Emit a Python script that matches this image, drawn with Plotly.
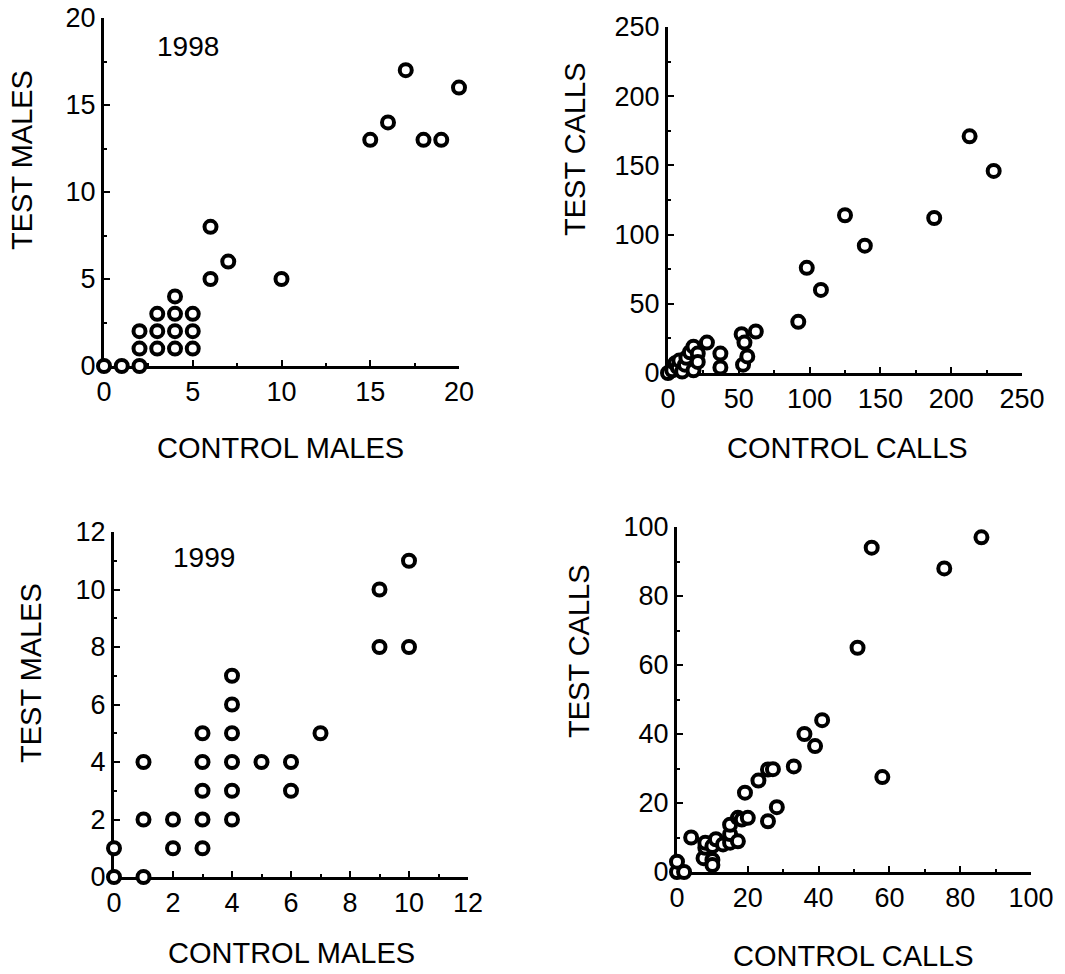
import plotly.graph_objects as go

# ---- data ----
ctrl_males_98 = [0, 1, 2, 2, 2, 3, 3, 3, 4, 4, 4, 4, 5, 5, 5, 6, 6, 7, 10, 15, 16, 17, 18, 19, 20]
test_males_98 = [0, 0, 0, 1, 2, 1, 2, 3, 1, 2, 3, 4, 1, 2, 3, 5, 8, 6, 5, 13, 14, 17, 13, 13, 16]

ctrl_calls_98 = [0, 3, 5, 7, 8, 10, 12, 13, 15.5, 18, 18, 21, 21, 27.5, 37, 37,
                 52, 53, 54, 56, 62, 92, 98, 108, 125, 139, 188, 213, 230]
test_calls_98 = [0, 2, 7, 4, 9, 1, 6, 11, 15, 19, 2, 14, 8, 22, 14, 4,
                 28, 6, 22, 12, 30, 37, 76, 60, 114, 92, 112, 171, 146]

ctrl_males_99 = [0, 0, 1, 1, 1, 2, 2, 3, 3, 3, 3, 3, 4, 4, 4, 4, 4, 4, 5, 6, 6, 7, 9, 9, 10, 10]
test_males_99 = [0, 1, 0, 2, 4, 1, 2, 1, 2, 3, 4, 5, 2, 3, 4, 5, 6, 7, 4, 3, 4, 5, 8, 10, 8, 11]

ctrl_calls_99 = [0, 0, 2, 4, 7.5, 8, 8, 10, 10, 10, 11, 13, 15, 15, 15, 17.2, 17.2, 18.3, 20,
                 19.2, 23, 25.7, 27.1, 33, 25.7, 28.2, 36, 39, 41, 51, 55, 58, 75.5, 86]
test_calls_99 = [0, 3, 0, 10, 4, 7, 8.5, 3.5, 2, 7.5, 9.5, 8, 8.5, 11, 13.7, 8.9, 15.7, 15.2, 15.7,
                 23, 26.5, 29.7, 29.8, 30.6, 14.7, 18.8, 40, 36.5, 44, 65, 94, 27.5, 88, 97]

W, H = 1065, 974

panels = [
    (ctrl_males_98, test_males_98, 20, 5, 20, 5, 104, 459, 18, 366, "CONTROL MALES", "TEST MALES"),
    (ctrl_calls_98, test_calls_98, 250, 50, 250, 50, 668, 1022, 27, 373, "CONTROL CALLS", "TEST CALLS"),
    (ctrl_males_99, test_males_99, 12, 2, 12, 2, 114, 468, 532, 877, "CONTROL MALES", "TEST MALES"),
    (ctrl_calls_99, test_calls_99, 100, 20, 100, 20, 677, 1031, 527, 872, "CONTROL CALLS", "TEST CALLS"),
]

xtitle_pos = [(280, 448), (847, 448), (291, 953), (853, 956)]
ytitle_pos = [(22, 160), (575, 149), (31, 673), (579, 651)]

FONT = "Liberation Sans, Arial, sans-serif"
fig = go.Figure()
annotations = []
layout = {}
for i, (xs, ys, xmax, xd, ymax, yd, x0, x1, yt, yb, xt, yti) in enumerate(panels):
    n = "" if i == 0 else str(i + 1)
    fig.add_trace(go.Scatter(
        x=xs, y=ys, mode="markers", xaxis="x" + n, yaxis="y" + n,
        cliponaxis=False, showlegend=False,
        marker=dict(size=12, color="white", line=dict(color="black", width=4)),
    ))
    common = dict(
        showline=True, linecolor="black", linewidth=3, showgrid=False, zeroline=False,
        ticks="inside", ticklen=6, tickwidth=2, tickcolor="black",
        tickfont=dict(family=FONT, size=27, color="black"), layer="below traces",
        automargin=False,
    )
    layout["xaxis" + n] = dict(common, domain=[x0 / W, x1 / W], range=[0, xmax],
                               dtick=xd, tick0=0, anchor="y" + n,
                               minor=dict(ticks="inside", ticklen=3, tickwidth=2,
                                          tickcolor="black", dtick=xd / 2))
    layout["yaxis" + n] = dict(common, domain=[1 - yb / H, 1 - yt / H], range=[0, ymax],
                               dtick=yd, tick0=0, anchor="x" + n,
                               minor=dict(ticks="inside", ticklen=3, tickwidth=2,
                                          tickcolor="black", dtick=yd / 2))
    annotations.append(dict(text=xt, x=xtitle_pos[i][0] / W, y=1 - xtitle_pos[i][1] / H,
                            xref="paper", yref="paper", showarrow=False,
                            xanchor="center", yanchor="middle",
                            font=dict(family=FONT, size=29, color="black")))
    annotations.append(dict(text=yti, x=ytitle_pos[i][0] / W, y=1 - ytitle_pos[i][1] / H,
                            xref="paper", yref="paper", showarrow=False, textangle=-90,
                            xanchor="center", yanchor="middle",
                            font=dict(family=FONT, size=29, color="black")))

annotations.append(dict(text="1998", x=188 / W, y=1 - 47 / H, xref="paper", yref="paper",
                        showarrow=False, xanchor="center", yanchor="middle",
                        font=dict(family=FONT, size=28, color="black")))
annotations.append(dict(text="1999", x=204 / W, y=1 - 557 / H, xref="paper", yref="paper",
                        showarrow=False, xanchor="center", yanchor="middle",
                        font=dict(family=FONT, size=28, color="black")))

fig.update_layout(
    width=W, height=H, margin=dict(l=0, r=0, t=0, b=0, pad=0, autoexpand=False),
    paper_bgcolor="white", plot_bgcolor="white",
    annotations=annotations, **layout,
)
fig.write_html("out.html")
